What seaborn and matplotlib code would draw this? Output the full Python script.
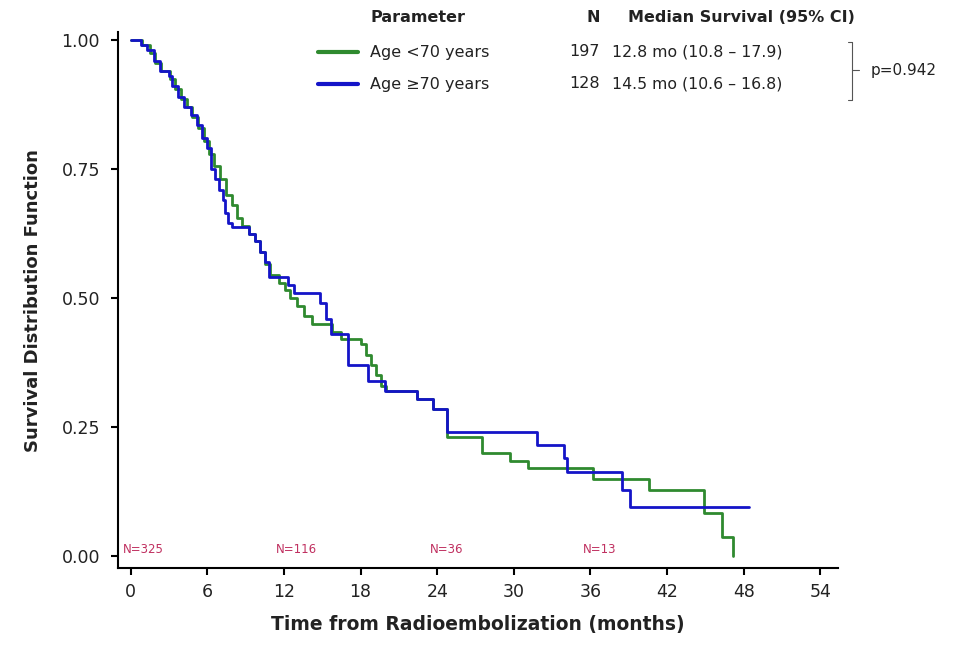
import matplotlib
matplotlib.use("Agg")
import matplotlib.pyplot as plt
import seaborn as sns
import pandas as pd
from matplotlib.lines import Line2D

# ---- data ----
t_young = [0, 0.9, 1.5, 1.9, 2.4, 3.1, 3.5, 3.9, 4.4, 4.8, 5.3, 5.7, 6.1, 6.5, 7.0, 7.5, 7.9,
           8.3, 8.7, 9.3, 9.7, 10.1, 10.5, 10.9, 11.6, 12.1, 12.5, 13.0, 13.6, 14.2, 15.8, 16.5,
           18.0, 18.4, 18.8, 19.2, 19.6, 20.0, 22.4, 23.7, 24.8, 27.5, 29.7, 31.1, 36.2, 40.6,
           44.9, 46.3, 47.2]
s_young = [1.0, 0.99, 0.975, 0.955, 0.94, 0.925, 0.905, 0.885, 0.87, 0.85, 0.83, 0.805, 0.78,
           0.755, 0.73, 0.70, 0.68, 0.655, 0.64, 0.625, 0.61, 0.59, 0.565, 0.545, 0.53, 0.515,
           0.50, 0.485, 0.465, 0.45, 0.435, 0.42, 0.41, 0.39, 0.37, 0.35, 0.33, 0.32, 0.305,
           0.285, 0.23, 0.20, 0.185, 0.17, 0.15, 0.128, 0.083, 0.037, 0.0]

t_old = [0, 0.8, 1.3, 1.8, 2.3, 3.0, 3.2, 3.7, 4.2, 4.7, 5.2, 5.6, 6.0, 6.3, 6.6, 6.9, 7.2,
         7.4, 7.6, 7.9, 9.3, 9.7, 10.1, 10.5, 10.8, 12.3, 12.8, 14.8, 15.3, 15.7, 17.0, 18.6,
         19.9, 22.4, 23.7, 24.8, 31.8, 33.9, 34.2, 38.5, 39.1, 48.4]
s_old = [1.0, 0.99, 0.98, 0.96, 0.94, 0.93, 0.91, 0.89, 0.87, 0.855, 0.835, 0.81, 0.79, 0.75,
         0.73, 0.71, 0.69, 0.665, 0.645, 0.638, 0.625, 0.61, 0.59, 0.57, 0.54, 0.525, 0.51,
         0.49, 0.46, 0.43, 0.37, 0.34, 0.32, 0.305, 0.285, 0.24, 0.215, 0.19, 0.163, 0.128,
         0.095, 0.095]

groups = ["Age <70 years", "Age \u226570 years"]
n_pat = ["197", "128"]
medians = ["12.8 mo (10.8 \u2013 17.9)", "14.5 mo (10.6 \u2013 16.8)"]
p_text = "p=0.942"
risk_t = [0, 12, 24, 36]
risk_lab = ["N=325", "N=116", "N=36", "N=13"]
x_ticks = [0, 6, 12, 18, 24, 30, 36, 42, 48, 54]
y_ticks = [0.0, 0.25, 0.5, 0.75, 1.0]

df = pd.concat([
    pd.DataFrame({"t": t_young, "s": s_young, "g": groups[0]}),
    pd.DataFrame({"t": t_old, "s": s_old, "g": groups[1]}),
])

sns.set_theme(style="ticks")
plt.rcParams["font.family"] = ["DejaVu Sans"]

colors = {groups[0]: "#2f8a2f", groups[1]: "#1414c8"}

fig = plt.figure(figsize=(9.59, 6.46), dpi=100)
ax = fig.add_axes([0.123, 0.121, 0.751, 0.829])

sns.lineplot(data=df, x="t", y="s", hue="g", palette=colors, estimator=None,
             drawstyle="steps-post", linewidth=2, legend=False, ax=ax, sort=False)

ax.set_xlim(-1, 55.4)
ax.set_ylim(-0.023, 1.015)
ax.set_xticks(x_ticks)
ax.set_xticklabels([str(v) for v in x_ticks])
ax.set_yticks(y_ticks)
ax.set_yticklabels(["%.2f" % v for v in y_ticks])
ax.tick_params(axis="both", labelsize=12.5, length=5, width=1.5, color="black", labelcolor="#222222")
ax.tick_params(axis="x", pad=6)
ax.tick_params(axis="y", pad=8)
for sp in ["left", "bottom"]:
    ax.spines[sp].set_linewidth(1.5)
    ax.spines[sp].set_color("black")
sns.despine(ax=ax)
ax.set_xlabel("Time from Radioembolization (months)", fontsize=13.5, fontweight="bold", labelpad=10,
              color="#222222")
ax.set_ylabel("Survival Distribution Function", fontsize=13, fontweight="bold", labelpad=14,
              color="#222222")

for tt, lab in zip(risk_t, risk_lab):
    ax.text(tt - 0.6, 0.013, lab, fontsize=8.5, color="#c03060", ha="left", va="center")

# legend table
H = 646.0
W = 959.0
def fx(px):
    return px / W
def fy(py):
    return 1 - py / H

hdr = dict(fontsize=11.5, fontweight="bold", va="center", ha="left", color="#222222")
fig.text(fx(370), fy(18), "Parameter", **hdr)
fig.text(fx(586), fy(18), "N", **hdr)
fig.text(fx(628), fy(18), "Median Survival (95% CI)", **dict(hdr, fontsize=11.5))
rows_y = [52, 84]
row = dict(fontsize=11.5, va="center", ha="left", color="#222222")
for i, g in enumerate(groups):
    yy = fy(rows_y[i])
    fig.add_artist(Line2D([fx(318), fx(358)], [yy, yy], color=colors[g], lw=3))
    fig.text(fx(370), yy, g, **row)
    fig.text(fx(569), yy, n_pat[i], **row)
    fig.text(fx(612), yy, medians[i], **dict(row, fontsize=11.3))

# bracket
bx = fx(852)
fig.add_artist(Line2D([bx, bx], [fy(42), fy(100)], color="#555555", lw=0.8))
fig.add_artist(Line2D([fx(848), bx], [fy(42), fy(42)], color="#555555", lw=0.8))
fig.add_artist(Line2D([fx(848), bx], [fy(100), fy(100)], color="#555555", lw=0.8))
fig.add_artist(Line2D([bx, fx(859)], [fy(70), fy(70)], color="#555555", lw=0.8))
fig.text(fx(871), fy(70), p_text, **dict(row, fontsize=11))

fig.savefig("out.png", dpi=100)
